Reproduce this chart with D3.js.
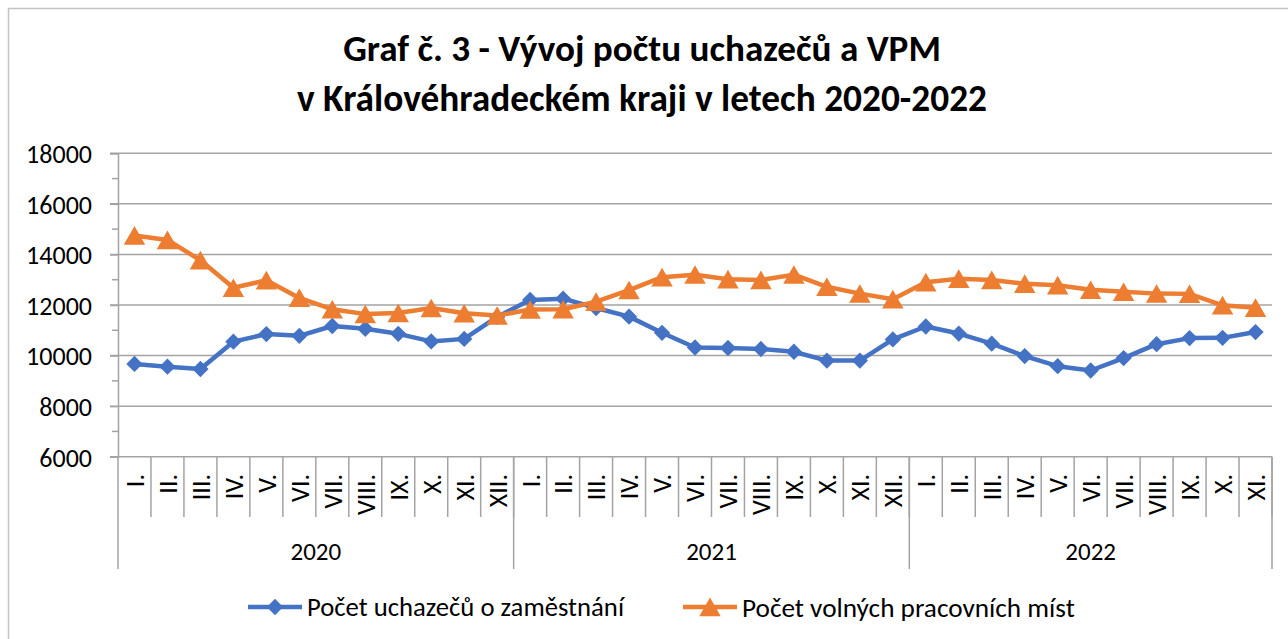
<!DOCTYPE html>
<html>
<head>
<meta charset="utf-8">
<script src="https://cdn.jsdelivr.net/npm/d3@7/dist/d3.min.js"></script>
<style>
  body { margin: 0; background: #fff; }
  svg { display: block; font-family: Carlito, Lato, sans-serif; }
</style>
</head>
<body>
<svg width="1288" height="639"></svg>
<script>
// data
var years = ["2020", "2021", "2022"];
var months = ["I.", "II.", "III.", "IV.", "V.", "VI.", "VII.", "VIII.", "IX.", "X.", "XI.", "XII."];
var monthsPerYear = [12, 12, 11];

var uchazeci = [
  9670, 9560, 9470, 10550, 10850, 10780, 11170, 11060, 10860, 10560, 10660, 11530,
  12200, 12250, 11880, 11540, 10900, 10320, 10300, 10260, 10150, 9800, 9800, 10640,
  11150, 10870, 10470, 9980, 9580, 9410, 9900, 10450, 10690, 10700, 10930
];
var vpm = [
  14750, 14570, 13770, 12680, 12980, 12280, 11830, 11640, 11680, 11880, 11670, 11580,
  11820, 11830, 12130, 12590, 13100, 13200, 13020, 12990, 13200, 12720, 12450, 12230,
  12900, 13040, 12990, 12840, 12780, 12600, 12520, 12450, 12440, 11990, 11890
];
var yTicks = [6000, 8000, 10000, 12000, 14000, 16000, 18000];
var seriesNames = ["Počet uchazečů o zaměstnání", "Počet volných pracovních míst"];
var titleLines = ["Graf č. 3 - Vývoj počtu uchazečů a VPM", "v Královéhradeckém kraji v letech 2020-2022"];

var blue = "#4472c4", orange = "#ed7d31", grid = "#a3a3a3";

var svg = d3.select("svg");

// chart frame (only left/top visible in the screenshot)
svg.append("path")
  .attr("d", "M8.5,639 V8.5 H1288")
  .attr("fill", "none")
  .attr("stroke", "#c4c4c4")
  .attr("stroke-width", 1.5);

// fit text to a width
function fit(sel, w) {
  var len = sel.node().getComputedTextLength();
  var fs = parseFloat(sel.attr("font-size"));
  sel.attr("font-size", (fs * w / len).toFixed(2));
}

// title
var titleW = [598, 690];
titleLines.forEach(function (t, i) {
  var tt = svg.append("text")
    .attr("x", 642)
    .attr("y", 61 + i * 50)
    .attr("text-anchor", "middle")
    .attr("font-weight", "bold")
    .attr("font-size", 32)
    .attr("fill", "#000")
    .text(t);
  fit(tt, titleW[i]);
});

// categories
var cats = [];
years.forEach(function (yr, yi) {
  for (var m = 0; m < monthsPerYear[yi]; m++) cats.push({ key: yr + "-" + m, year: yr, month: months[m] });
});

var plotLeft = 118, plotRight = 1272, plotTop = 153.3, plotBottom = 456.7;

var x = d3.scaleBand().domain(cats.map(function (d) { return d.key; })).range([plotLeft, plotRight]);
var y = d3.scaleLinear().domain([6000, 18000]).range([plotBottom, plotTop]);

// gridlines
svg.append("g")
  .selectAll("line")
  .data(yTicks.slice(1))
  .enter()
  .append("line")
  .attr("x1", plotLeft - 8)
  .attr("x2", plotRight)
  .attr("y1", function (d) { return y(d); })
  .attr("y2", function (d) { return y(d); })
  .attr("stroke", grid)
  .attr("stroke-width", 1.5);

// y axis
var yAxis = svg.append("g")
  .attr("transform", "translate(" + plotLeft + ",0)")
  .call(d3.axisLeft(y).tickValues(yTicks).tickSize(8).tickPadding(18).tickFormat(d3.format("d")));
yAxis.attr("font-family", null).attr("font-size", null);
yAxis.select(".domain").attr("stroke", grid).attr("stroke-width", 1.5);
yAxis.selectAll(".tick line").attr("stroke", grid).attr("stroke-width", 1.5);
yAxis.selectAll(".tick text")
  .attr("font-size", 26)
  .attr("fill", "#000")
  .attr("dy", "0.36em");

// minor ticks
svg.append("g")
  .selectAll("line")
  .data(d3.range(7000, 18000, 2000))
  .enter()
  .append("line")
  .attr("x1", plotLeft - 6)
  .attr("x2", plotLeft)
  .attr("y1", function (d) { return y(d); })
  .attr("y2", function (d) { return y(d); })
  .attr("stroke", grid)
  .attr("stroke-width", 1.5);

// x axis line
svg.append("line")
  .attr("x1", plotLeft - 8).attr("x2", plotRight)
  .attr("y1", plotBottom).attr("y2", plotBottom)
  .attr("stroke", grid).attr("stroke-width", 1.5);

// month separators
var bw = x.bandwidth();
var xg = svg.append("g");
xg.selectAll("line.m")
  .data(cats)
  .enter()
  .append("line")
  .attr("class", "m")
  .attr("x1", function (d) { return x(d.key) + bw; })
  .attr("x2", function (d) { return x(d.key) + bw; })
  .attr("y1", plotBottom)
  .attr("y2", 517)
  .attr("stroke", grid)
  .attr("stroke-width", 1.5);

// year separators
var yearSpans = [];
var idx = 0;
monthsPerYear.forEach(function (n, i) {
  yearSpans.push({ year: years[i], x0: x(cats[idx].key), x1: x(cats[idx + n - 1].key) + bw });
  idx += n;
});
xg.selectAll("line.y")
  .data([yearSpans[0].x0].concat(yearSpans.map(function (d) { return d.x1; })))
  .enter()
  .append("line")
  .attr("class", "y")
  .attr("x1", function (d) { return d; })
  .attr("x2", function (d) { return d; })
  .attr("y1", plotBottom)
  .attr("y2", 569)
  .attr("stroke", grid)
  .attr("stroke-width", 1.5);

// month labels
xg.selectAll("text.m")
  .data(cats)
  .enter()
  .append("text")
  .attr("class", "m")
  .attr("transform", function (d) { return "translate(" + (x(d.key) + bw / 2) + ",474) rotate(-90)"; })
  .attr("text-anchor", "end")
  .attr("dy", "0.36em")
  .attr("font-size", 26)
  .attr("fill", "#000")
  .text(function (d) { return d.month; });

// year labels
xg.selectAll("text.y")
  .data(yearSpans)
  .enter()
  .append("text")
  .attr("class", "y")
  .attr("x", function (d) { return (d.x0 + d.x1) / 2; })
  .attr("y", 560)
  .attr("text-anchor", "middle")
  .attr("font-size", 25)
  .attr("fill", "#000")
  .text(function (d) { return d.year; });

// lines
var line = d3.line()
  .x(function (d, i) { return x(cats[i].key) + bw / 2; })
  .y(function (d) { return y(d); });

var diamond = d3.symbol().type(d3.symbolDiamond2).size(170);
var triangle = d3.symbol().type(d3.symbolTriangle).size(200);

// d3 centres the triangle on its centroid, Excel on its box: shift down a bit
function drawSeries(vals, color, sym, dy) {
  var g = svg.append("g");
  g.append("path")
    .attr("d", line(vals))
    .attr("fill", "none")
    .attr("stroke", color)
    .attr("stroke-width", 4.5)
    .attr("stroke-linejoin", "round");
  g.selectAll("path.pt")
    .data(vals)
    .enter()
    .append("path")
    .attr("class", "pt")
    .attr("d", sym)
    .attr("transform", function (d, i) { return "translate(" + (x(cats[i].key) + bw / 2) + "," + (y(d) + dy) + ")"; })
    .attr("fill", color);
}
drawSeries(uchazeci, blue, diamond, 0);
drawSeries(vpm, orange, triangle, 3);

// legend
var legend = [
  { name: seriesNames[0], color: blue, sym: diamond, dy: 0, x: 248, w: 317 },
  { name: seriesNames[1], color: orange, sym: triangle, dy: 3, x: 683, w: 333 }
];
legend.forEach(function (l) {
  var g = svg.append("g").attr("transform", "translate(" + l.x + ",607)");
  g.append("line").attr("x1", 0).attr("x2", 54).attr("stroke", l.color).attr("stroke-width", 4.5);
  g.append("path").attr("d", l.sym).attr("transform", "translate(27," + l.dy + ")").attr("fill", l.color);
  var t = g.append("text")
    .attr("x", 59)
    .attr("dy", "0.35em")
    .attr("font-size", 22)
    .attr("fill", "#000")
    .text(l.name);
  fit(t, l.w);
});
</script>
</body>
</html>
